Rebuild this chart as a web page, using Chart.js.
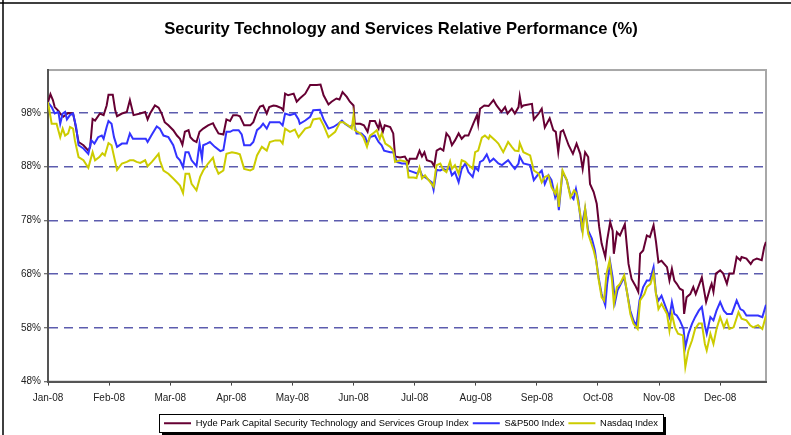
<!DOCTYPE html>
<html><head><meta charset="utf-8">
<script src="https://cdn.jsdelivr.net/npm/chart.js@4.4.0/dist/chart.umd.min.js"></script>
<style>html,body{margin:0;padding:0;background:#fff;}canvas{display:block;}</style>
</head><body>
<canvas id="c" width="791" height="435"></canvas>
<script>
const monthLabels = ['Jan-08','Feb-08','Mar-08','Apr-08','May-08','Jun-08','Jul-08','Aug-08','Sep-08','Oct-08','Nov-08','Dec-08'];
const yTicks = [48, 58, 68, 78, 88, 98];

// x positions in months elapsed since Jan-08
const hydeX = [0,0.04,0.08,0.11,0.17,0.20,0.25,0.33,0.41,0.44,0.50,0.58,0.66,0.69,0.73,0.77,0.85,0.91,0.96,0.99,1.06,1.10,1.13,1.21,1.29,1.34,1.40,1.51,1.59,1.63,1.67,1.75,1.81,1.86,1.91,1.97,2.05,2.11,2.16,2.20,2.24,2.30,2.33,2.38,2.43,2.48,2.54,2.62,2.70,2.73,2.79,2.87,2.92,2.98,3.03,3.09,3.14,3.21,3.31,3.36,3.42,3.47,3.52,3.58,3.62,3.69,3.74,3.82,3.85,3.88,3.93,4.02,4.07,4.12,4.21,4.29,4.40,4.46,4.51,4.59,4.64,4.72,4.77,4.82,4.89,4.94,5.00,5.02,5.11,5.17,5.23,5.27,5.35,5.41,5.43,5.48,5.51,5.60,5.65,5.68,5.76,5.84,5.90,5.92,6.03,6.08,6.12,6.16,6.20,6.28,6.32,6.36,6.42,6.47,6.52,6.57,6.61,6.66,6.72,6.77,6.82,6.88,6.96,7.02,7.04,7.07,7.14,7.21,7.29,7.34,7.42,7.48,7.52,7.59,7.64,7.70,7.72,7.75,7.78,7.92,7.95,8.03,8.08,8.13,8.21,8.27,8.31,8.35,8.39,8.43,8.52,8.59,8.65,8.71,8.75,8.79,8.84,8.87,8.93,8.98,9.02,9.06,9.12,9.15,9.20,9.24,9.26,9.31,9.36,9.44,9.50,9.55,9.61,9.66,9.69,9.74,9.80,9.85,9.91,9.95,9.99,10.04,10.13,10.17,10.21,10.25,10.29,10.34,10.39,10.41,10.45,10.51,10.56,10.60,10.70,10.77,10.84,10.86,10.89,10.93,11.00,11.05,11.11,11.15,11.22,11.27,11.33,11.35,11.43,11.50,11.54,11.60,11.68,11.72,11.75];
const hydeY = [100.0,101.5,100.4,99.1,98.4,97.9,97.3,98.0,97.9,96.3,92.6,92.0,91.0,91.7,96.9,96.6,97.9,97.6,99.4,101.4,101.4,98.5,97.4,97.9,98.2,100.4,97.6,97.9,98.2,96.8,97.9,99.4,99.0,97.9,96.3,95.7,94.8,93.8,93.2,92.1,94.5,94.8,93.5,92.9,92.6,94.5,95.1,95.7,96.1,95.4,94.2,94.0,96.8,96.5,97.6,97.6,97.4,95.7,95.7,96.3,98.2,99.2,99.4,97.9,99.1,99.4,99.3,98.9,98.5,101.6,101.3,101.6,100.1,100.7,101.6,103.2,103.2,103.3,101.3,99.6,100.1,100.7,100.5,101.9,101.0,100.1,99.4,96.0,96.0,95.7,94.5,96.5,96.5,95.1,96.3,94.5,95.7,95.4,94.2,89.9,89.7,89.9,88.7,89.5,89.5,91.0,89.9,90.7,89.2,88.9,88.1,91.0,91.4,91.0,94.2,93.5,92.0,92.9,94.2,93.2,93.8,93.8,96.0,97.6,96.0,98.8,99.4,99.3,100.4,99.4,98.2,99.1,97.9,98.8,97.9,99.1,101.1,99.1,99.4,99.7,96.8,97.9,98.8,95.3,97.0,94.8,94.5,90.7,94.5,94.8,92.0,90.4,92.3,90.4,87.6,90.7,89.8,84.8,83.3,81.1,76.8,73.7,71.2,74.3,77.7,76.1,71.8,75.8,75.2,77.3,69.9,67.1,65.9,64.7,71.8,72.4,75.2,74.9,77.1,74.0,70.2,70.5,69.3,66.8,69.0,66.8,66.2,65.3,65.0,60.6,63.7,64.3,65.6,64.3,67.4,62.8,65.6,66.2,64.7,68.1,68.7,68.1,66.2,68.1,68.1,71.2,70.6,71.2,70.9,69.9,70.6,70.9,70.6,73.0,74.0];

const spxX = [0,0.06,0.11,0.17,0.20,0.24,0.28,0.31,0.36,0.41,0.46,0.50,0.58,0.66,0.71,0.76,0.82,0.88,0.91,0.96,0.99,1.04,1.08,1.13,1.21,1.29,1.34,1.39,1.51,1.60,1.63,1.70,1.78,1.83,1.89,1.97,2.05,2.11,2.16,2.21,2.25,2.30,2.35,2.43,2.48,2.52,2.54,2.60,2.65,2.73,2.82,2.87,2.92,2.98,3.03,3.12,3.17,3.21,3.31,3.36,3.42,3.48,3.52,3.58,3.63,3.72,3.79,3.84,3.88,3.96,4.04,4.10,4.12,4.21,4.29,4.34,4.45,4.51,4.59,4.67,4.75,4.81,4.86,4.94,5.01,5.05,5.13,5.19,5.23,5.27,5.35,5.41,5.46,5.50,5.60,5.65,5.71,5.79,5.86,5.90,5.98,6.05,6.08,6.12,6.20,6.28,6.31,6.36,6.42,6.47,6.52,6.57,6.61,6.66,6.72,6.77,6.83,6.88,6.95,6.99,7.04,7.07,7.12,7.18,7.23,7.29,7.37,7.43,7.53,7.59,7.64,7.70,7.72,7.78,7.89,7.95,8.03,8.08,8.13,8.19,8.24,8.30,8.33,8.36,8.42,8.49,8.55,8.60,8.64,8.68,8.73,8.79,8.84,8.90,8.95,9.01,9.06,9.12,9.15,9.20,9.24,9.28,9.32,9.36,9.43,9.47,9.53,9.58,9.63,9.68,9.74,9.80,9.85,9.91,9.95,9.99,10.04,10.13,10.17,10.21,10.25,10.29,10.34,10.40,10.43,10.48,10.54,10.59,10.65,10.70,10.75,10.78,10.84,10.89,10.94,11.00,11.06,11.11,11.19,11.27,11.33,11.38,11.43,11.54,11.62,11.69,11.75];
const spxY = [100.0,99.1,97.9,98.2,96.0,97.9,98.2,96.8,97.6,97.9,95.4,92.0,91.4,90.4,92.9,92.3,93.5,93.8,93.2,95.4,96.5,96.0,93.5,91.7,92.3,92.3,94.2,93.2,93.2,93.2,92.6,94.0,95.5,95.1,93.8,93.5,92.0,89.8,89.2,87.9,90.7,90.7,89.2,88.1,92.3,89.5,92.0,92.3,92.6,91.7,90.9,91.1,94.5,94.5,94.8,94.8,94.0,92.0,92.0,92.6,94.8,95.4,96.0,95.1,96.3,96.3,96.3,95.7,97.9,97.6,97.9,96.8,96.0,96.6,97.3,98.5,98.6,96.8,95.1,95.4,96.0,96.6,96.0,95.4,96.0,94.2,94.2,93.5,92.3,93.5,93.8,92.6,92.0,91.0,90.7,90.7,88.9,88.6,88.6,87.3,87.0,86.7,87.6,86.4,85.8,85.1,83.7,87.4,87.3,87.6,87.3,87.9,86.4,87.0,85.1,87.6,88.6,87.0,86.1,87.9,87.3,88.9,89.2,90.3,88.9,89.5,88.6,88.3,89.2,88.3,87.6,88.6,89.9,88.6,88.3,85.5,86.7,87.3,84.8,86.4,85.5,82.3,83.3,79.9,87.0,85.5,82.7,82.0,83.9,81.7,76.8,80.2,76.1,74.6,72.4,67.4,64.3,62.2,66.2,70.2,67.4,62.8,65.0,65.9,67.4,65.0,61.2,59.4,58.4,63.1,65.6,66.8,66.8,69.3,64.3,63.1,64.0,61.2,60.0,62.8,60.6,60.3,59.4,57.8,54.4,56.9,58.8,60.0,61.2,61.9,58.4,56.9,60.0,59.4,61.2,62.8,61.2,60.6,60.6,63.1,61.5,61.2,60.3,60.3,60.3,60.0,62.3];

const ndqX = [0,0.06,0.14,0.20,0.24,0.28,0.33,0.36,0.41,0.44,0.50,0.58,0.66,0.73,0.77,0.84,0.89,0.93,0.99,1.04,1.10,1.13,1.21,1.29,1.34,1.40,1.45,1.51,1.59,1.63,1.70,1.81,1.83,1.89,1.97,2.05,2.11,2.16,2.21,2.25,2.31,2.35,2.43,2.49,2.54,2.62,2.70,2.73,2.79,2.87,2.92,3.01,3.09,3.14,3.21,3.31,3.36,3.42,3.50,3.58,3.63,3.72,3.80,3.84,3.88,3.96,4.04,4.10,4.12,4.21,4.29,4.34,4.45,4.51,4.59,4.70,4.78,4.83,4.91,4.97,5.00,5.02,5.11,5.16,5.22,5.27,5.32,5.38,5.43,5.46,5.52,5.60,5.65,5.68,5.76,5.87,5.90,5.98,6.03,6.08,6.12,6.17,6.23,6.31,6.34,6.36,6.42,6.47,6.52,6.58,6.61,6.66,6.72,6.77,6.83,6.88,6.95,6.99,7.04,7.10,7.15,7.21,7.23,7.32,7.37,7.45,7.53,7.59,7.64,7.70,7.72,7.78,7.89,7.95,8.03,8.08,8.13,8.19,8.24,8.30,8.33,8.36,8.42,8.49,8.55,8.61,8.65,8.71,8.75,8.79,8.84,8.93,8.97,9.01,9.06,9.10,9.14,9.19,9.23,9.26,9.31,9.36,9.43,9.48,9.53,9.58,9.65,9.69,9.76,9.80,9.86,9.91,9.95,9.99,10.04,10.13,10.17,10.21,10.26,10.31,10.39,10.43,10.48,10.54,10.59,10.65,10.70,10.75,10.78,10.84,10.89,10.94,11.00,11.06,11.11,11.15,11.22,11.30,11.35,11.43,11.49,11.54,11.62,11.69,11.75];
const ndqY = [100.0,96.0,96.0,93.5,95.1,93.8,94.2,95.4,95.1,92.9,89.8,89.2,87.8,90.7,89.2,89.8,90.5,90.1,92.4,92.0,88.9,87.4,88.6,88.9,89.2,89.2,88.9,88.7,89.2,88.1,88.9,90.4,89.2,87.3,86.7,85.8,85.1,84.5,83.1,86.7,86.7,84.8,83.6,86.1,87.3,88.6,89.7,88.3,86.7,87.3,90.4,90.7,90.5,90.3,87.6,87.3,87.6,90.1,91.7,91.0,92.6,92.9,92.9,92.3,95.1,94.5,94.9,93.5,93.8,95.1,95.4,96.8,97.0,95.7,93.5,94.5,96.3,96.3,95.7,95.1,97.6,94.8,94.2,93.5,91.7,93.8,94.2,94.8,93.2,94.2,92.3,91.7,91.0,88.9,89.2,88.9,86.0,86.0,85.9,87.8,85.8,86.4,85.5,84.3,87.0,88.3,88.6,87.4,87.0,89.0,87.6,88.3,86.7,89.2,88.9,88.3,87.6,90.7,91.0,93.4,93.8,93.2,93.8,92.9,92.3,90.7,92.6,91.7,91.0,90.9,92.4,90.7,90.1,87.3,86.7,85.1,86.1,86.4,84.2,83.0,84.2,80.5,87.3,85.5,82.3,83.6,83.0,79.2,75.8,80.2,75.5,72.4,70.5,67.1,63.7,63.1,68.1,70.5,66.8,62.5,65.6,66.2,67.8,64.3,60.6,58.8,57.8,63.1,64.3,65.6,66.2,68.2,64.3,61.5,62.5,60.6,57.5,60.6,58.1,56.9,56.6,50.7,53.8,55.7,57.8,58.8,58.8,55.0,53.8,56.9,55.0,57.8,60.0,58.1,59.4,57.8,58.1,60.9,59.7,59.4,58.5,58.1,58.5,57.8,60.3];

const FONT = "'Liberation Sans', Arial, Helvetica, sans-serif";
const toPoints = (xs, ys) => xs.map((x, i) => ({ x: x, y: ys[i] }));

const LEGEND_DX = 4, LEGEND_DY = 4, TITLE_DX = 14;
const framePlugin = {
  id: 'frame',
  beforeDraw(chart) {
    const { ctx, chartArea: a } = chart;
    ctx.save();
    ctx.fillStyle = '#ffffff';
    ctx.fillRect(0, 0, chart.width, chart.height);
    ctx.strokeStyle = '#a8a8a8';
    ctx.lineWidth = 2;
    ctx.strokeRect(a.left, a.top, a.right - a.left, a.bottom - a.top);
    ctx.restore();
  },
  afterLayout(chart) {
    const lg = chart.legend;
    if (lg) { lg.left += LEGEND_DX; lg.right += LEGEND_DX; lg.top += LEGEND_DY; lg.bottom += LEGEND_DY; }
    const tb = chart.titleBlock;
    if (tb) { tb.left += TITLE_DX; tb.right += TITLE_DX; }
  },
  afterDraw(chart) {
    const { ctx } = chart;
    const hb = chart.legend.legendHitBoxes;
    const l = Math.min(...hb.map(h => h.left)) - 5;
    const r = Math.max(...hb.map(h => h.left + h.width)) + 5;
    const cy = hb[0].top + hb[0].height / 2;
    const t = Math.round(cy - 9), b = Math.round(cy + 9);
    ctx.save();
    ctx.fillStyle = '#000';
    ctx.fillRect(Math.round(l) + 3, b, Math.round(r - l), 3);
    ctx.fillRect(Math.round(r), t + 3, 3, b - t);
    ctx.strokeStyle = '#000';
    ctx.lineWidth = 1;
    ctx.strokeRect(Math.round(l) + 0.5, t + 0.5, Math.round(r - l), b - t);
    ctx.lineWidth = 1.5;
    ctx.beginPath();
    ctx.moveTo(0, 3); ctx.lineTo(chart.width, 3);
    ctx.moveTo(3, 0); ctx.lineTo(3, chart.height);
    ctx.stroke();
    ctx.restore();
  }
};

new Chart(document.getElementById('c'), {
  type: 'line',
  data: {
    datasets: [
      { label: 'Hyde Park Capital Security Technology and Services Group Index', data: toPoints(hydeX, hydeY),
        borderColor: '#660033', backgroundColor: '#660033', borderWidth: 2, pointRadius: 0, tension: 0, order: 3 },
      { label: 'S&P500 Index', data: toPoints(spxX, spxY),
        borderColor: '#3333ff', backgroundColor: '#3333ff', borderWidth: 2, pointRadius: 0, tension: 0, order: 2 },
      { label: 'Nasdaq Index', data: toPoints(ndqX, ndqY),
        borderColor: '#cccc00', backgroundColor: '#cccc00', borderWidth: 2, pointRadius: 0, tension: 0, order: 1 }
    ]
  },
  options: {
    responsive: false, animation: false, devicePixelRatio: 1,
    layout: { padding: { left: 8, right: 25, top: 0, bottom: 1 } },
    plugins: {
      title: { display: true, text: 'Security Technology and Services Relative Performance (%)',
        font: { family: FONT, size: 16.6, weight: 'bold' }, color: '#000', padding: { top: 19.5, bottom: 30.6 } },
      legend: { position: 'bottom', fullSize: false,
        labels: { usePointStyle: true, pointStyle: 'line', pointStyleWidth: 27, color: '#000',
          font: { family: FONT, size: 9.4 }, padding: 4,
          sort: (a, b) => a.datasetIndex - b.datasetIndex } },
      tooltip: { enabled: false }
    },
    scales: {
      x: { type: 'linear', min: 0, max: 11.75,
        afterBuildTicks: s => { s.ticks = monthLabels.map((_, i) => ({ value: i })); },
        ticks: { callback: (v, i) => monthLabels[i], font: { family: FONT, size: 10 }, color: '#222', maxRotation: 0, autoSkip: false, padding: 6.5 },
        grid: { drawOnChartArea: false, drawTicks: true, tickLength: 4, tickColor: '#444', tickWidth: 1 },
        border: { color: '#555', width: 2 } },
      y: { min: 48, max: 106,
        afterBuildTicks: s => { s.ticks = yTicks.map(v => ({ value: v })); },
        afterFit: s => { s.width = 40; },
        ticks: { callback: v => v + '%', font: { family: FONT, size: 10 }, color: '#222', padding: 3 },
        grid: { color: c => (c.tick && c.tick.value === 48) ? 'rgba(0,0,0,0)' : '#5c5cae', lineWidth: 1.5, tickColor: '#444', tickLength: 4, tickWidth: 1 },
        border: { color: '#555', width: 2, dash: [9, 6] } }
    }
  },
  plugins: [framePlugin]
});
</script>
</body></html>
